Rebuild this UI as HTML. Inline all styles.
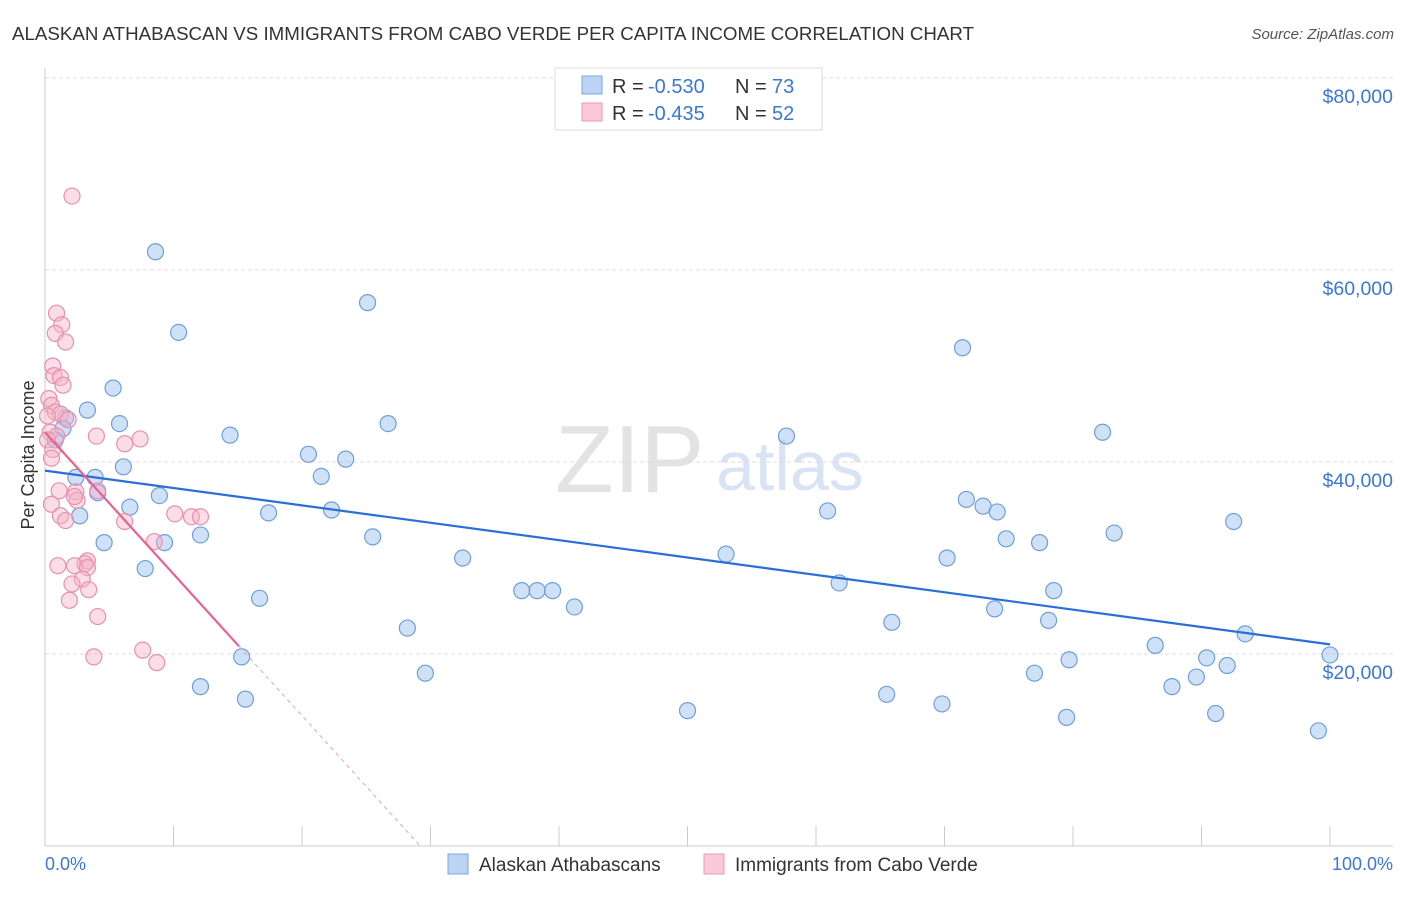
<!DOCTYPE html>
<html><head><meta charset="utf-8"><style>
body{margin:0;background:#fff;font-family:"Liberation Sans",sans-serif;}
svg text{font-family:"Liberation Sans",sans-serif;}
</style></head><body>
<svg id="chart" width="1406" height="892" xmlns="http://www.w3.org/2000/svg">
<text x="12" y="40" font-size="18.5" fill="#333" textLength="962" lengthAdjust="spacingAndGlyphs">ALASKAN ATHABASCAN VS IMMIGRANTS FROM CABO VERDE PER CAPITA INCOME CORRELATION CHART</text>
<text x="1394" y="39" font-size="15" fill="#555" font-style="italic" text-anchor="end">Source: ZipAtlas.com</text>
<text transform="translate(34,455) rotate(-90)" font-size="18" fill="#333" text-anchor="middle">Per Capita Income</text>
<text x="555" y="492" font-size="96" fill="#ddd" font-family="Liberation Serif" opacity="0.8">ZIP</text>
<text x="716" y="490" font-size="70" fill="#c8d8ee" opacity="0.7">atlas</text>
<g id="grid"></g><g id="marks"></g>
<g>
<rect x="555" y="68" width="267" height="62" fill="#fff" stroke="#ddd"/>
<rect x="582" y="76" width="20" height="18" fill="#bcd4f4" stroke="#7aa6dd"/>
<rect x="582" y="103" width="20" height="18" fill="#fbcad8" stroke="#e999b5"/>
<text x="612" y="93" font-size="20" fill="#333">R =</text>
<text x="648" y="93" font-size="20" fill="#3a78d4">-0.530</text>
<text x="735" y="93" font-size="20" fill="#333">N =</text>
<text x="772" y="93" font-size="20" fill="#3a78d4">73</text>
<text x="612" y="120" font-size="20" fill="#333">R =</text>
<text x="648" y="120" font-size="20" fill="#3a78d4">-0.435</text>
<text x="735" y="120" font-size="20" fill="#333">N =</text>
<text x="772" y="120" font-size="20" fill="#3a78d4">52</text>
</g>
<g>
<rect x="448" y="854" width="20" height="20" fill="#bcd4f4" stroke="#7aa6dd"/>
<text x="479" y="871" font-size="19" fill="#333">Alaskan Athabascans</text>
<rect x="704" y="854" width="20" height="20" fill="#fbcad8" stroke="#e999b5"/>
<text x="735" y="871" font-size="19" fill="#333">Immigrants from Cabo Verde</text>
</g>
<text x="45" y="870" font-size="18" fill="#3a78d4">0.0%</text>
<text x="1393" y="870" font-size="18" fill="#3a78d4" text-anchor="end">100.0%</text>
</svg>
<script>
const yTicks=[20000,40000,60000,80000];
const yTickLabels=["$20,000","$40,000","$60,000","$80,000"];
const xTicks=[0,10,20,30,40,50,60,70,80,90,100];
const blueX=[8.6,10.4,25.1,71.4,5.3,3.3,5.8,1.6,1.4,0.8,14.4,26.7,57.7,82.3,20.5,23.4,6.1,21.5,3.9,2.4,4.1,8.9,6.6,2.7,17.4,22.3,60.9,71.7,73.0,74.1,92.5,4.6,9.3,12.1,25.5,74.8,77.4,83.2,32.5,53.0,70.2,7.8,61.8,37.1,38.3,39.5,78.5,16.7,41.2,73.9,65.9,78.1,28.2,93.4,86.4,15.3,79.7,90.4,100,92.0,29.6,77.0,89.6,12.1,87.7,65.5,15.6,69.8,50.0,79.5,91.1,99.1];
const blueY=[61900,53500,56600,51900,47700,45400,44000,44600,43500,42300,42800,44000,42700,43100,40800,40300,39500,38500,38400,38400,36800,36500,35300,34400,34700,35000,34900,36100,35400,34800,33800,31600,31600,32400,32200,32000,31600,32600,30000,30400,30000,28900,27400,26600,26600,26600,26600,25800,24900,24700,23300,23500,22700,22100,20900,19700,19400,19600,19900,18800,18000,18000,17600,16600,16600,15800,15300,14800,14100,13400,13800,12000];
const pinkX=[2.1,0.9,1.3,0.8,1.6,0.6,0.7,1.2,1.4,0.3,0.5,0.8,1.2,1.8,0.2,0.4,0.9,4.0,7.4,6.2,0.2,0.6,0.5,4.1,2.4,1.1,2.5,0.5,2.3,1.2,1.6,10.1,11.4,12.1,6.2,8.5,3.3,3.1,1.0,2.3,3.3,2.9,2.1,3.4,1.9,4.1,7.6,3.8,8.7];
const pinkY=[67700,55500,54300,53400,52500,50000,49000,48800,48000,46600,45900,45200,45000,44400,44800,43100,42700,42700,42400,41900,42300,41300,40400,37000,36900,37000,36000,35600,36400,34400,33900,34600,34300,34300,33800,31700,29700,29400,29200,29200,29000,27800,27300,26700,25600,23900,20400,19700,19100];
const blueTrendX=[0,100], blueTrendY=[39100,21000];
const pinkTrendX=[0,15.1,29.2], pinkTrendY=[43100,20800,0];
const NS="http://www.w3.org/2000/svg";
const X=v=>45+v/100*1285, Y=v=>846-v/20000*192;
const grid=document.getElementById('grid'), marks=document.getElementById('marks');
function mk(tag,attrs,parent){const e=document.createElementNS(NS,tag);for(const k in attrs)e.setAttribute(k,attrs[k]);parent.appendChild(e);return e;}
yTicks.forEach((t,i)=>{
 const l=mk('line',{x1:45,x2:1393,y1:Y(t),y2:Y(t),stroke:'#ddd','stroke-dasharray':'4,3'},grid);
 
 
 const tx=mk('text',{x:1393,y:Y(t)+25,'font-size':19.5,fill:'#3a78d4','text-anchor':'end'},grid);
 tx.textContent=yTickLabels[i];
 
 
});
const ax=mk('line',{x1:45,x2:1393,y1:846,y2:846,stroke:'#ccc'},grid);


const ay=mk('line',{x1:45,x2:45,y1:68,y2:846,stroke:'#ccc'},grid);


xTicks.slice(1).forEach(t=>{
 const l=mk('line',{x1:X(t),x2:X(t),y1:826,y2:846,stroke:'#ccc'},grid);
 
 
});
blueX.forEach((x,i)=>{
 const c=mk('circle',{cx:X(x),cy:Y(blueY[i]),r:8,fill:'rgba(160,196,240,0.5)',stroke:'#6f9fd8','stroke-width':1.2},marks);
 
 
});
pinkX.forEach((x,i)=>{
 const c=mk('circle',{cx:X(x),cy:Y(pinkY[i]),r:8,fill:'rgba(245,180,200,0.45)',stroke:'#e890b0','stroke-width':1.2},marks);
 
 
});
const bt=mk('line',{x1:X(blueTrendX[0]),y1:Y(blueTrendY[0]),x2:X(blueTrendX[1]),y2:Y(blueTrendY[1]),stroke:'#2a6fd6','stroke-width':2.2},marks);


const pt=mk('line',{x1:X(pinkTrendX[0]),y1:Y(pinkTrendY[0]),x2:X(pinkTrendX[1]),y2:Y(pinkTrendY[1]),stroke:'#e8628f','stroke-width':2.2},marks);


const pd=mk('line',{x1:X(pinkTrendX[1]),y1:Y(pinkTrendY[1]),x2:X(pinkTrendX[2]),y2:Y(pinkTrendY[2]),stroke:'#eaa0b8','stroke-width':1,'stroke-dasharray':'4,4'},marks);


</script>
</body></html>
